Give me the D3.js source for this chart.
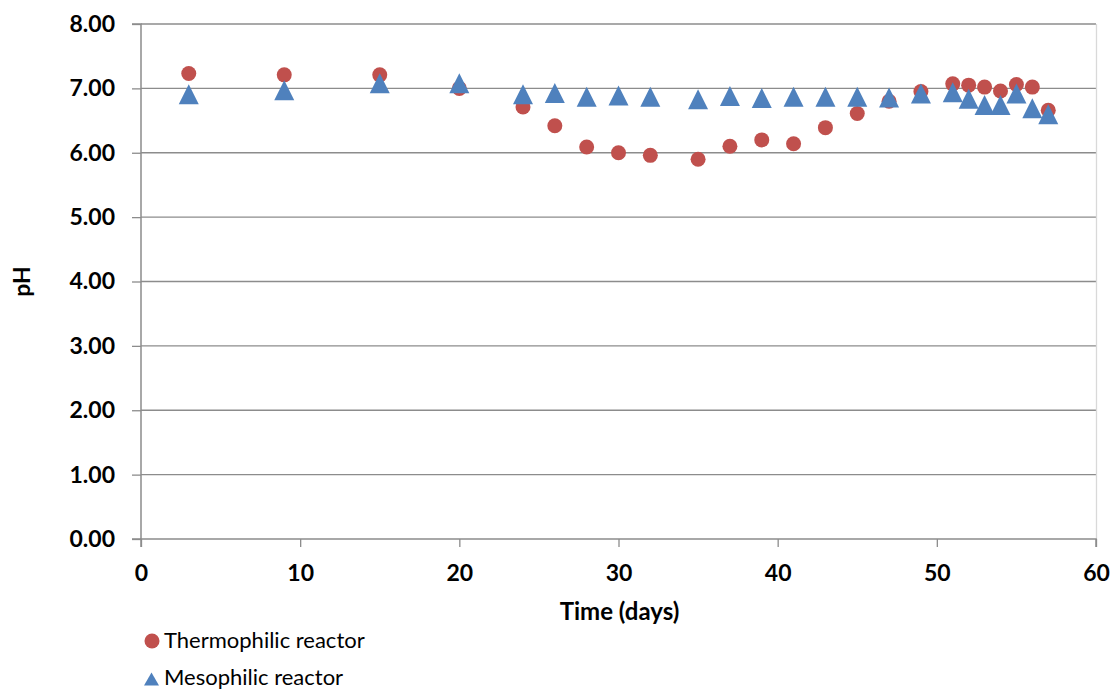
<!DOCTYPE html>
<html><head><meta charset="utf-8">
<script src="https://cdn.jsdelivr.net/npm/d3@7"></script>
<style>body{margin:0;background:#fff}svg{display:block}text{font-family:Lato,"Open Sans",sans-serif}</style>
</head><body>
<svg id="c" width="1116" height="690"></svg>
<script>
const days = [3, 9, 15, 20, 24, 26, 28, 30, 32, 35, 37, 39, 41, 43, 45, 47, 49, 51, 52, 53, 54, 55, 56, 57];
const thermophilic = [7.23, 7.21, 7.21, 7.00, 6.71, 6.42, 6.09, 6.00, 5.96, 5.90, 6.10, 6.20, 6.14, 6.39, 6.61, 6.80, 6.95, 7.07, 7.05, 7.02, 6.96, 7.06, 7.02, 6.66];
const mesophilic = [6.91, 6.97, 7.08, 7.08, 6.91, 6.93, 6.87, 6.89, 6.87, 6.83, 6.88, 6.85, 6.87, 6.87, 6.87, 6.86, 6.92, 6.94, 6.84, 6.74, 6.74, 6.92, 6.69, 6.60];
const yTicks = [0, 1, 2, 3, 4, 5, 6, 7, 8];
const xTicks = [0, 10, 20, 30, 40, 50, 60];
const seriesNames = ["Thermophilic reactor", "Mesophilic reactor"];
const colors = ["#C0504D", "#4F81BD"];

const svg = d3.select("#c");
const L = 141, R = 1096, T = 24, B = 539;
const x = d3.scaleLinear().domain([0, 60]).range([L, R]);
const y = d3.scaleLinear().domain([0, 8]).range([B, T]);

// gridlines
svg.append("g").selectAll("line").data(yTicks.filter(d => d > 0)).join("line")
  .attr("x1", L).attr("x2", R).attr("y1", d => y(d)).attr("y2", d => y(d))
  .attr("stroke", "#8c8c8c").attr("stroke-width", 1.3);
// right border
svg.append("line").attr("x1", R + 0.5).attr("x2", R + 0.5).attr("y1", T).attr("y2", B)
  .attr("stroke", "#d9d9d9").attr("stroke-width", 1.3);

// axes
const yAxis = d3.axisLeft(y).tickValues(yTicks).tickFormat(d3.format(".2f")).tickSize(9).tickPadding(17);
const gy = svg.append("g").attr("transform", `translate(${L},0)`).call(yAxis);
const xAxis = d3.axisBottom(x).tickValues(xTicks).tickFormat(d3.format("d")).tickSize(8).tickPadding(18);
const gx = svg.append("g").attr("transform", `translate(0,${B})`).call(xAxis);
[gy, gx].forEach(g => {
  g.select(".domain").attr("stroke", "#8c8c8c").attr("stroke-width", 1.5);
  g.selectAll(".tick line").attr("stroke", "#8c8c8c").attr("stroke-width", 1.3);
  g.selectAll(".tick text").attr("fill", "#000").style("font-size", "23px").style("font-weight", "bold")
   .style("font-family", "Lato, sans-serif");
});
gy.select(".domain").attr("d", `M-9,${T}H0V${B}H-9`);
gx.select(".domain").attr("d", `M${L},8V0H${R}V8`);

// titles
svg.append("text").attr("x", x(30) + 1).attr("y", 620).attr("text-anchor", "middle")
  .style("font-size", "24px").style("font-weight", "bold").text("Time (days)");
svg.append("text").attr("transform", `translate(30,${y(4)}) rotate(-90)`).attr("text-anchor", "middle")
  .style("font-size", "23px").style("font-weight", "bold").text("pH");

function triPath(cx, cy, w, h) {
  return `M${cx},${cy - h / 2}L${cx + w / 2},${cy + h / 2}L${cx - w / 2},${cy + h / 2}Z`;
}

// thermophilic circles
svg.append("g").selectAll("circle").data(days.map((d, i) => [d, thermophilic[i]])).join("circle")
  .attr("cx", d => x(d[0])).attr("cy", d => y(d[1])).attr("r", 7.5).attr("fill", colors[0]);
// mesophilic triangles
svg.append("g").selectAll("path").data(days.map((d, i) => [d, mesophilic[i]])).join("path")
  .attr("d", d => triPath(x(d[0]), y(d[1]), 20, 20)).attr("fill", colors[1]);

// legend
svg.append("circle").attr("cx", 152).attr("cy", 641).attr("r", 7.5).attr("fill", colors[0]);
svg.append("text").attr("x", 164).attr("y", 648).style("font-size", "22px").text(seriesNames[0]);
svg.append("path").attr("d", triPath(151.5, 679, 15, 13)).attr("fill", colors[1]);
svg.append("text").attr("x", 164).attr("y", 685).style("font-size", "22px").text(seriesNames[1]);
</script>
</body></html>
